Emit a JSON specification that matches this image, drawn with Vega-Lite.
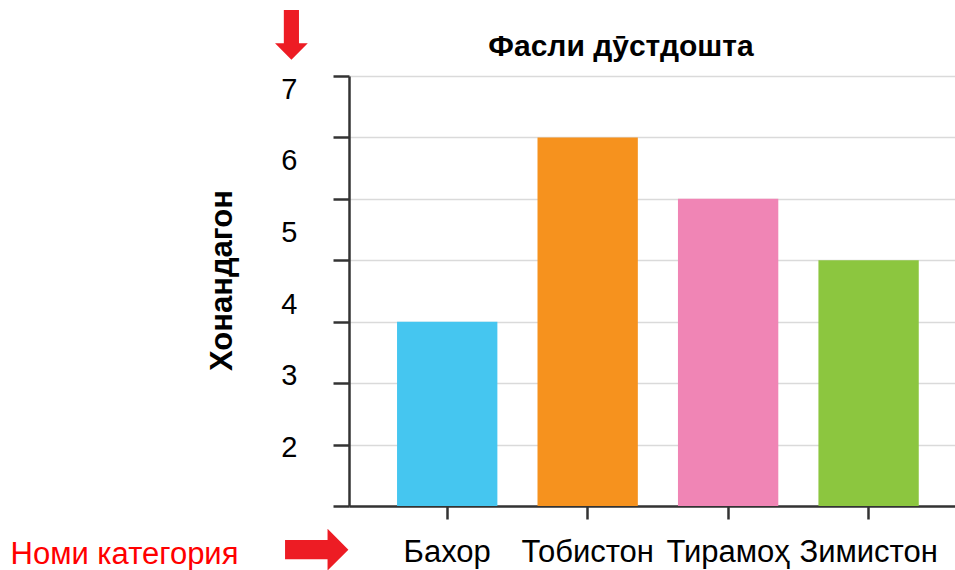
{
  "$schema": "https://vega.github.io/schema/vega-lite/v6.json",
  "width": 606,
  "height": 430,
  "autosize": {"type": "none"},
  "padding": {"left": 349, "top": 76, "right": 0, "bottom": 64},
  "background": "white",
  "title": {
    "text": "Фасли дӯстдошта",
    "font": "Liberation Sans",
    "fontSize": 30,
    "fontWeight": "bold",
    "color": "#000000",
    "anchor": "middle",
    "frame": "group",
    "dx": -31,
    "dy": 106,
    "offset": 24,
    "baseline": "alphabetic"
  },
  "config": {"view": {"stroke": null}},
  "data": {
    "values": [
      {"season": "Бахор", "value": 3},
      {"season": "Тобистон", "value": 6},
      {"season": "Тирамоҳ", "value": 5},
      {"season": "Зимистон", "value": 4}
    ]
  },
  "layer": [
    {
      "mark": {"type": "bar"},
      "encoding": {
        "x": {
          "field": "season",
          "type": "nominal",
          "sort": null,
          "scale": {"paddingInner": 0.2857, "paddingOuter": 0.3, "align": 0.57},
          "axis": {
            "title": "Номи  категория",
            "titleColor": "#ff0000",
            "titleFont": "Liberation Sans",
            "titleFontSize": 31,
            "titleFontWeight": "normal",
            "titleAlign": "left",
            "titleBaseline": "alphabetic",
            "titleAngle": 0,
            "titleX": -339,
            "titleY": 57,
            "labelAngle": 0,
            "labelFont": "Liberation Sans",
            "labelFontSize": 31,
            "labelColor": "#000000",
            "labelPadding": 18,
            "domainColor": "#333333",
            "domainWidth": 2.5,
            "tickColor": "#333333",
            "tickWidth": 2.5,
            "tickSize": 13,
            "grid": false
          }
        },
        "y": {
          "field": "value",
          "type": "quantitative",
          "scale": {"domain": [0, 7], "nice": false},
          "axis": {
            "values": [0, 1, 2, 3, 4, 5, 6, 7],
            "labels": false,
            "title": "⬇",
            "titleColor": "#ed1c24",
            "titleFont": "DejaVu Sans",
            "titleFontSize": 66,
            "titleFontWeight": "normal",
            "titleAngle": 0,
            "titleAlign": "center",
            "titleBaseline": "middle",
            "titleX": -58,
            "titleY": -39,
            "grid": true,
            "gridColor": "#dadada",
            "gridWidth": 1.5,
            "domainColor": "#333333",
            "domainWidth": 2.5,
            "tickColor": "#333333",
            "tickWidth": 2.5,
            "tickSize": 16
          }
        },
        "color": {
          "field": "season",
          "type": "nominal",
          "sort": null,
          "scale": {
            "domain": ["Бахор", "Тобистон", "Тирамоҳ", "Зимистон"],
            "range": ["#45c6f0", "#f6921e", "#f085b5", "#8cc63f"]
          },
          "legend": null
        }
      }
    },
    {
      "mark": {"type": "point", "opacity": 0},
      "encoding": {
        "x": {
          "field": "season",
          "type": "nominal",
          "sort": null,
          "scale": {"paddingInner": 0.2857, "paddingOuter": 0.3, "align": 0.57},
          "axis": {
            "orient": "bottom",
            "domain": false,
            "ticks": false,
            "labels": false,
            "grid": false,
            "title": "➡",
            "titleColor": "#ed1c24",
            "titleFont": "DejaVu Sans",
            "titleFontSize": 84,
            "titleFontWeight": "normal",
            "titleAngle": 0,
            "titleAlign": "center",
            "titleBaseline": "middle",
            "titleX": -34,
            "titleY": 44
          }
        },
        "y": {
          "field": "value",
          "type": "quantitative",
          "scale": {"domain": [1, 7], "nice": false},
          "axis": {
            "orient": "left",
            "values": [2, 3, 4, 5, 6, 7],
            "ticks": false,
            "domain": false,
            "grid": false,
            "labelFont": "Liberation Sans",
            "labelFontSize": 29,
            "labelColor": "#000000",
            "labelPadding": 52,
            "labelBaseline": "middle",
            "labelOffset": 13,
            "title": "Хонандагон",
            "titleFont": "Liberation Sans",
            "titleFontSize": 31,
            "titleFontWeight": "bold",
            "titleColor": "#000000",
            "titleAngle": -90,
            "titleAlign": "center",
            "titleBaseline": "middle",
            "titleX": -127,
            "titleY": 204
          }
        }
      }
    }
  ],
  "resolve": {"scale": {"y": "independent", "x": "independent"}}
}
